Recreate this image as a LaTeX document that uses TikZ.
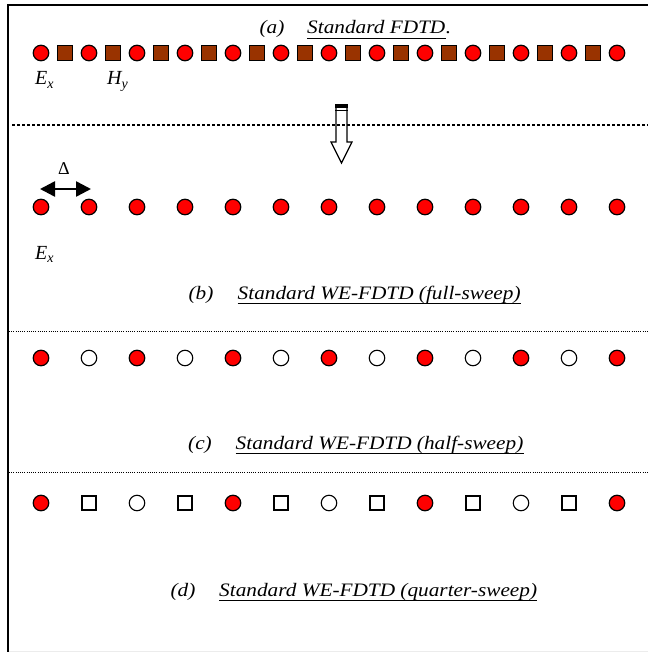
\documentclass[tikz,border=0pt]{standalone}
\usepackage{fontspec}
\setmainfont{Liberation Serif}
\usetikzlibrary{arrows.meta}
\definecolor{ered}{RGB}{255,0,0}
\definecolor{hbrown}{RGB}{153,51,0}
\begin{document}
\begin{tikzpicture}[x=1pt,y=-1pt,
  efield/.style={circle,draw=black,line width=1.2pt,fill=ered,minimum size=15.5pt,inner sep=0pt},
  ecirc/.style={circle,draw=black,line width=1.1pt,fill=white,minimum size=15.5pt,inner sep=0pt},
  hsq/.style={rectangle,draw=black,line width=1.2pt,fill=hbrown,minimum size=15pt,inner sep=0pt},
  osq/.style={rectangle,draw=black,line width=1.1pt,fill=white,minimum size=14pt,inner sep=0pt},
  lab/.style={font=\fontsize{19}{22}\selectfont\itshape,inner sep=0pt,xscale=1.12},
  sym/.style={font=\fontsize{20}{22}\selectfont\itshape,inner sep=0pt,anchor=base west},
  uline/.style={line width=1.3pt},
  frameline/.style={line width=2pt},
  dotthick/.style={line width=2pt,dash pattern=on 2.5pt off 2.5pt},
  dotthin/.style={line width=0.8pt,dash pattern=on 1pt off 1.2pt},
  blockarrow/.style={line width=1.2pt,line join=miter,draw=black}
]
\useasboundingbox (0,0) rectangle (648,652);
% frame
\coordinate (fbl) at (8,652);
\coordinate (ftl) at (8,5);
\coordinate (ftr) at (648,5);
\draw[frameline] (fbl) -- (ftl) -- (ftr);
\coordinate (bbl) at (9,651);
\coordinate (bbr) at (648,651);
\draw[gray!15,line width=1pt] (bbl) -- (bbr);

% ---- (a) title
\node[lab,anchor=base] (la) at (272,34) {(a)};
\node[lab,anchor=base west] (ta) at (307,34) {Standard FDTD};
\node[lab,anchor=base west] (pa) at (ta.base east) {.};
\draw[uline] ([yshift=-4.5pt]ta.base west) -- ([yshift=-4.5pt]ta.base east);

% row (a)
\foreach \i in {0,...,12}{
  \node[efield] (ea\i) at (41+48*\i,53) {};
}
\foreach \i in {0,...,11}{
  \node[hsq] (ha\i) at (65+48*\i,53) {};
}
\node[sym] (exa) at (35,85) {E\raisebox{-0.35ex}{\fontsize{14}{14}\selectfont x}};
\node[sym] (hya) at (107,85) {H\raisebox{-0.35ex}{\fontsize{14}{14}\selectfont y}};

% separator 1 and block arrow
\coordinate (s1l) at (12,125);
\coordinate (s1r) at (648,125);
\draw[dotthick] (s1l) -- (s1r);
\draw[blockarrow] (336,107) -- (336,142) -- (331,142) -- (341.5,163) -- (352,142) -- (347,142) -- (347,107) -- cycle;
\fill (335.4,104) rectangle (347.6,108.3);
\draw[line width=1.2pt] (335.4,110.8) -- (347.6,110.8);

% row (b)
\node[font=\fontsize{18}{20}\selectfont,inner sep=0pt] (delta) at (64,169) {Δ};
\coordinate (dl) at (40,189);
\coordinate (dr) at (91,189);
\draw[{Triangle[length=15pt,width=15pt]}-{Triangle[length=15pt,width=15pt]},line width=2.5pt] (dl) -- (dr);
\foreach \i in {0,...,12}{
  \node[efield] (eb\i) at (41+48*\i,207) {};
}
\node[sym] (exb) at (35,259) {E\raisebox{-0.35ex}{\fontsize{14}{14}\selectfont x}};

\node[lab,anchor=base] (lb) at (201,299) {(b)};
\node[lab,anchor=base west] (tb) at (237.5,299) {Standard WE-FDTD (full-sweep)};
\draw[uline] ([yshift=-4.5pt]tb.base west) -- ([yshift=-4.5pt]tb.base east);

% separator 2
\coordinate (s2l) at (9,331);
\coordinate (s2r) at (648,331);
\draw[dotthin] (s2l) -- (s2r);

% row (c)
\foreach \i in {0,2,...,12}{
  \node[efield] (ec\i) at (41+48*\i,358) {};
}
\foreach \i in {1,3,...,11}{
  \node[ecirc] (oc\i) at (41+48*\i,358) {};
}
\node[lab,anchor=base] (lc) at (200,449) {(c)};
\node[lab,anchor=base west] (tc) at (235.5,449) {Standard WE-FDTD (half-sweep)};
\draw[uline] ([yshift=-4.5pt]tc.base west) -- ([yshift=-4.5pt]tc.base east);

% separator 3
\coordinate (s3l) at (9,472);
\coordinate (s3r) at (648,472);
\draw[dotthin] (s3l) -- (s3r);

% row (d)
\foreach \i in {0,4,8,12}{
  \node[efield] (ed\i) at (41+48*\i,503) {};
}
\foreach \i in {2,6,10}{
  \node[ecirc] (od\i) at (41+48*\i,503) {};
}
\foreach \i in {1,3,...,11}{
  \node[osq] (sd\i) at (41+48*\i,503) {};
}
\node[lab,anchor=base] (ld) at (183,596) {(d)};
\node[lab,anchor=base west] (td) at (219,596) {Standard WE-FDTD (quarter-sweep)};
\draw[uline] ([yshift=-4.5pt]td.base west) -- ([yshift=-4.5pt]td.base east);
\end{tikzpicture}
\end{document}
